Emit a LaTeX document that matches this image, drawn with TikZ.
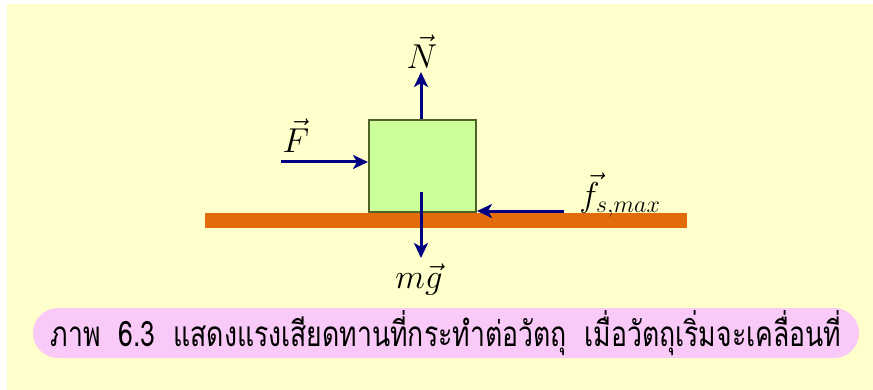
\documentclass[tikz,border=0pt]{standalone}
\usepackage{fontspec}
\usepackage{amsmath}
\usetikzlibrary{arrows.meta,positioning}
\newfontfamily\thaifont[Script=Thai,FakeStretch=0.76]{Loma}
\definecolor{bgyellow}{HTML}{FFFFCC}
\definecolor{blockgreen}{HTML}{CCFF99}
\definecolor{blockedge}{HTML}{4F6228}
\definecolor{groundorange}{HTML}{E36C0A}
\definecolor{forcenavy}{HTML}{000080}
\definecolor{captionpink}{HTML}{F9C9F7}

\begin{document}
\begin{tikzpicture}[
    x=0.5pt, y=-0.5pt,
    font=\fontsize{17}{20}\selectfont,
    block_box/.style={draw=blockedge, fill=blockgreen, line width=1pt, minimum width=53.5pt, minimum height=46pt, inner sep=0pt},
    ground_bar/.style={fill=groundorange, minimum width=241pt, minimum height=7.5pt, inner sep=0pt},
    caption_box/.style={fill=captionpink, rounded corners=12.5pt, minimum width=413pt, minimum height=25pt, inner sep=0pt},
    force_label/.style={inner sep=1pt},
    arrow/.style={->, >={Stealth[length=7.5pt,width=7pt,inset=2pt]}, line width=1.5pt, color=forcenavy}
]

\useasboundingbox (0,0) rectangle (873,390);
\fill[bgyellow] (7,4) rectangle (873,390);

% GROUND AND BLOCK
\node[ground_bar] (ground) at (446,220.5) {};
\node[block_box] (block) at (422.5,166) {};

% FREE ENDS OF THE FORCES
\coordinate (Ntip) at (421,72);
\coordinate (Fstart) at (281,162);
\coordinate (fstart) at (564,211);
\coordinate (mgstart) at (421,192);
\coordinate (mgtip) at (421,258);

% LABELS
\node[force_label] (Nlabel) at (422,52) {$\vec{N}$};
\node[force_label] (Flabel) at (296,136) {$\vec{F}$};
\node[force_label] (mglabel) at (419,280) {$m\vec{g}$};
\node[force_label, anchor=west] (flabel) at (577,195) {$\vec{f}_{s,max}$};

% CAPTION
\node[caption_box] (caption) at (446,333) {\thaifont\fontsize{17.5}{20}\selectfont ภาพ\ \ 6.3\ \ แสดงแรงเสียดทานที่กระทำต่อวัตถุ\ \ เมื่อวัตถุเริ่มจะเคลื่อนที่};

% ARROWS
\draw[arrow] (block.north -| Ntip) -- (Ntip);
\draw[arrow] (Fstart) -- (Fstart -| block.west);
\draw[arrow] (fstart) -- (fstart -| block.east);
\draw[arrow] (mgstart) -- (mgtip);

\end{tikzpicture}
\end{document}
